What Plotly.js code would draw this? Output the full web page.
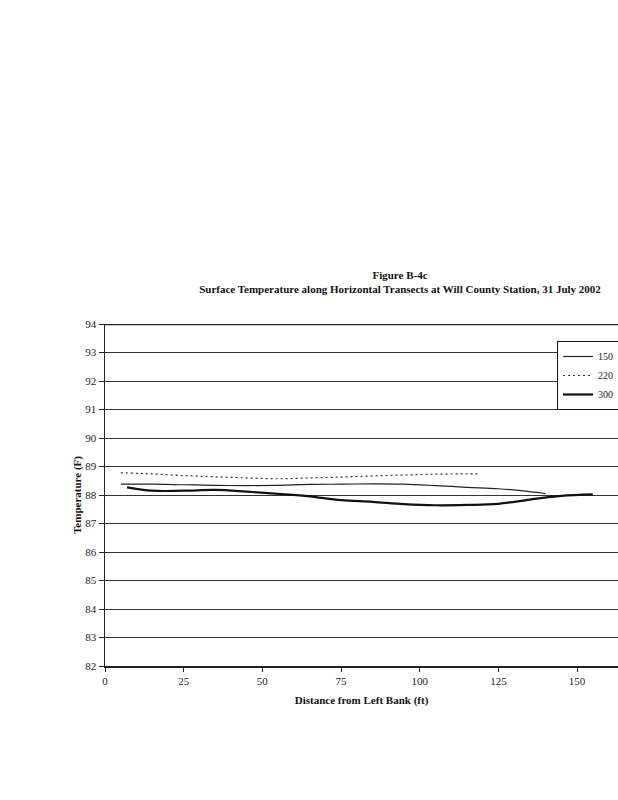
<!DOCTYPE html>
<html>
<head>
<meta charset="utf-8">
<script src="https://cdn.plot.ly/plotly-3.0.1.min.js"></script>
<style>html,body{margin:0;padding:0;background:#fff;}#chart{width:618px;height:800px;}</style>
</head>
<body>
<div id="chart"></div>
<script>
const seriesNames = ["150", "220", "300"];

const x150 = [5, 15, 25, 35, 45, 55, 65, 75, 85, 95, 105, 115, 125, 135, 140];
const y150 = [88.38, 88.38, 88.36, 88.34, 88.33, 88.34, 88.37, 88.38, 88.39, 88.38, 88.33, 88.27, 88.22, 88.12, 88.05];

const x220 = [5, 15, 25, 35, 45, 55, 65, 75, 85, 95, 105, 115, 119];
const y220 = [88.78, 88.74, 88.68, 88.64, 88.60, 88.57, 88.60, 88.63, 88.67, 88.70, 88.73, 88.74, 88.74];

const x300 = [7, 15, 25, 35, 45, 55, 65, 75, 85, 95, 105, 115, 125, 135, 145, 155];
const y300 = [88.27, 88.15, 88.15, 88.18, 88.12, 88.04, 87.95, 87.82, 87.76, 87.68, 87.64, 87.65, 87.69, 87.84, 87.97, 88.02];

const xTicks = [0, 25, 50, 75, 100, 125, 150];
const yTicks = [82, 83, 84, 85, 86, 87, 88, 89, 90, 91, 92, 93, 94];

const serif = "Liberation Serif, Times New Roman, serif";

const traces = [
  {x: x150, y: y150, name: seriesNames[0], type: "scatter", mode: "lines",
   line: {color: "#222", width: 1.2, shape: "spline"}},
  {x: x220, y: y220, name: seriesNames[1], type: "scatter", mode: "lines",
   line: {color: "#333", width: 1.2, dash: "2px,3px", shape: "spline"}},
  {x: x300, y: y300, name: seriesNames[2], type: "scatter", mode: "lines",
   line: {color: "#111", width: 2.2, shape: "spline"}}
];

const layout = {
  width: 618, height: 800,
  margin: {l: 105, r: 0, t: 324, b: 134, autoexpand: false},
  paper_bgcolor: "#fff", plot_bgcolor: "#fff",
  showlegend: true,
  title: {
    text: "<b>Figure B-4c</b><br><b>Surface Temperature along Horizontal Transects at Will County Station, 31 July 2002</b>",
    x: 400 / 618, xanchor: "center", xref: "container",
    y: 1 - 279 / 800, yanchor: "top", yref: "container",
    font: {family: serif, size: 11, color: "#111"}
  },
  xaxis: {
    range: [0, 163], tickvals: xTicks, ticktext: xTicks.map(String),
    showgrid: false, zeroline: false, showline: true, linecolor: "#222", linewidth: 1.5,
    ticks: "outside", ticklen: 4, tickcolor: "#222",
    tickfont: {family: serif, size: 11, color: "#222"},
    title: {text: "<b>Distance from Left Bank (ft)</b>", font: {family: serif, size: 11, color: "#111"}, standoff: 10}
  },
  yaxis: {
    range: [82, 94], tickvals: yTicks, ticktext: yTicks.map(String),
    showgrid: true, gridcolor: "#333", gridwidth: 1, zeroline: false,
    showline: true, linecolor: "#222", linewidth: 1.5,
    ticks: "outside", ticklen: 5, tickcolor: "#222",
    tickfont: {family: serif, size: 11, color: "#222"},
    title: {text: "<b>Temperature (F)</b>", font: {family: serif, size: 11, color: "#111"}, standoff: 1}
  },
  shapes: [
    {type: "line", xref: "paper", yref: "y", x0: 0, x1: 1, y0: 94, y1: 94,
     line: {color: "#222", width: 2.5}}
  ],
  legend: {
    x: (557 - 105) / 513, xanchor: "left", y: (666 - 341) / 342, yanchor: "top",
    bgcolor: "#fff", bordercolor: "#111", borderwidth: 1,
    font: {family: serif, size: 10, color: "#222"},
    tracegroupgap: 0
  }
};

Plotly.newPlot("chart", traces, layout, {staticPlot: true, displayModeBar: false});
</script>
</body>
</html>
